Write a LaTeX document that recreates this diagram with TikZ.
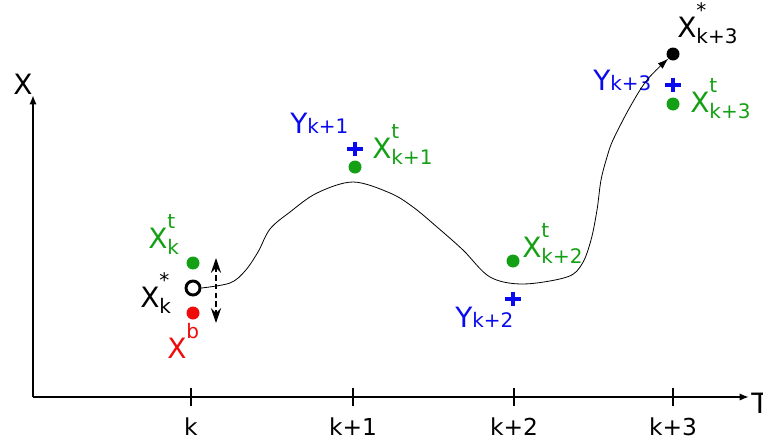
\documentclass[tikz,border=0pt]{standalone}
\usepackage{fontspec}
\setmainfont{DejaVu Sans}
\usepackage{amsmath}
\usepackage{tikz}
\usetikzlibrary{arrows.meta, positioning}
\definecolor{truthgreen}{RGB}{20,160,20}
\definecolor{obsblue}{RGB}{10,10,240}
\definecolor{backred}{RGB}{240,10,10}
\newcommand{\lblfont}{\fontsize{21}{25}\selectfont}
\newcommand{\subfont}{\fontsize{15}{18}\selectfont}
\newcommand{\tickfont}{\fontsize{17.5}{21}\selectfont}
% letter with a raised and a lowered script
\newcommand{\scripted}[3]{#1\rlap{\raisebox{14.5pt}{\subfont #2}}\raisebox{-5pt}{\subfont #3}}

\begin{document}
\begin{tikzpicture}[
    x = 0.75pt, y = -0.75pt,
    axisline/.style = {
      line width = 1.8pt, -{Latex[length = 7pt, width = 5.5pt]}
    },
    tickmark/.style = {
      line width = 1.8pt
    },
    state/.style = {
      circle, fill, inner sep = 0pt, minimum size = 9.75pt
    },
    analysis/.style = {
      circle, draw, line width = 2.2pt, fill = white,
      inner sep = 0pt, minimum size = 10.5pt
    },
    obs/.style = {
      rectangle, inner sep = 0pt, minimum width = 12pt, minimum height = 11pt,
      path picture = {
        \draw[obsblue, line width = 2.6pt]
          (path picture bounding box.north) -- (path picture bounding box.south)
          (path picture bounding box.west) -- (path picture bounding box.east);
      }
    },
    lbl/.style = {
      inner sep = 0pt, anchor = base west, font = \lblfont
    },
    traj/.style = {
      line width = 0.6pt, -{Latex[length = 8pt, width = 5.5pt]}
    },
    incr/.style = {
      line width = 2pt, dash pattern = on 4pt off 2.5pt,
      {Stealth[length = 11pt, width = 7.5pt]}-{Stealth[length = 11pt, width = 7.5pt]}
    },
    ]
    \useasboundingbox  (0,0)  rectangle  (763,443);

    % draw axes
    \coordinate  (origin)  at  (33,397);
    \coordinate  (tend)  at  (749,397);
    \coordinate  (xend)  at  (33,95);
    \draw  [axisline]  (origin)  --  (tend);
    \draw  [axisline]  (origin)  --  (xend);
    \node  [lbl]  (xaxis)  at  (13,94)  {X};
    \node  [lbl]  (taxis)  at  (751,413)  {T};

    % draw ticks
    \foreach \i/\x/\txt in {0/191/k, 1/353/k+1, 2/514/k+2, 3/673/k+3} {
      \draw  [tickmark]  (\x,388)  --  (\x,406);
      \node  [inner sep = 0pt, anchor = base, font = \tickfont]  (tl\i)  at  (\x,435)  {\txt};
    }

    % draw states at k
    \node  [state, truthgreen]  (xt0)  at  (193,263)  {};
    \node  [analysis]  (xa0)  at  (193,288)  {};
    \node  [state, backred]  (xb0)  at  (193,313)  {};
    \node  [lbl, truthgreen]  (lxt0)  at  (148,248)  {\scripted{X}{t}{k}};
    \node  [lbl]  (lxa0)  at  (140,307)  {\scripted{X}{*}{k}};
    \node  [lbl, backred]  (lxb0)  at  (167,358)  {\scripted{X}{b}{}};

    % draw truth and observations
    \foreach \i/\x/\yt/\yo in {1/355/167/149, 2/513/261/299, 3/673/104/85} {
      \node  [state, truthgreen]  (xt\i)  at  (\x,\yt)  {};
      \node  [obs]  (y\i)  at  (\x,\yo)  {};
    }
    \node  [lbl, truthgreen]  (lxt1)  at  (372,158)  {\scripted{X}{t}{k+1}};
    \node  [lbl, truthgreen]  (lxt2)  at  (522,257)  {\scripted{X}{t}{k+2}};
    \node  [lbl, truthgreen]  (lxt3)  at  (690,112)  {\scripted{X}{t}{k+3}};
    \node  [lbl, obsblue]  (ly1)  at  (290,133)  {Y{\subfont k+1}};
    \node  [lbl, obsblue]  (ly2)  at  (455,327)  {Y{\subfont k+2}};
    \node  [lbl, obsblue]  (ly3)  at  (593,90)  {Y{\subfont k+3}};

    % draw forecast end point
    \node  [state]  (xa3)  at  (673,54)  {};
    \node  [lbl]  (lxa3)  at  (677,37)  {\scripted{X}{*}{k+3}};

    % draw trajectory
    \draw  [traj]  plot [smooth, tension = 0.55]  coordinates {
      (xa0.east) (230,283) (245,271) (258,252) (270,229) (290,212) (317,193)
      (353,182) (390,193) (413,207) (437,227) (463,250) (490,277) (523,284)
      (567,277) (582,264) (591,240) (597,210) (601,180) (607,157) (613,140)
      (630,107) (647,80) (xa3.225)
    };

    % draw increment
    \coordinate  (incrtop)  at  (216,258);
    \coordinate  (incrbot)  at  (216,323);
    \draw  [incr]  (incrtop)  --  (incrbot);
\end{tikzpicture}
\end{document}
